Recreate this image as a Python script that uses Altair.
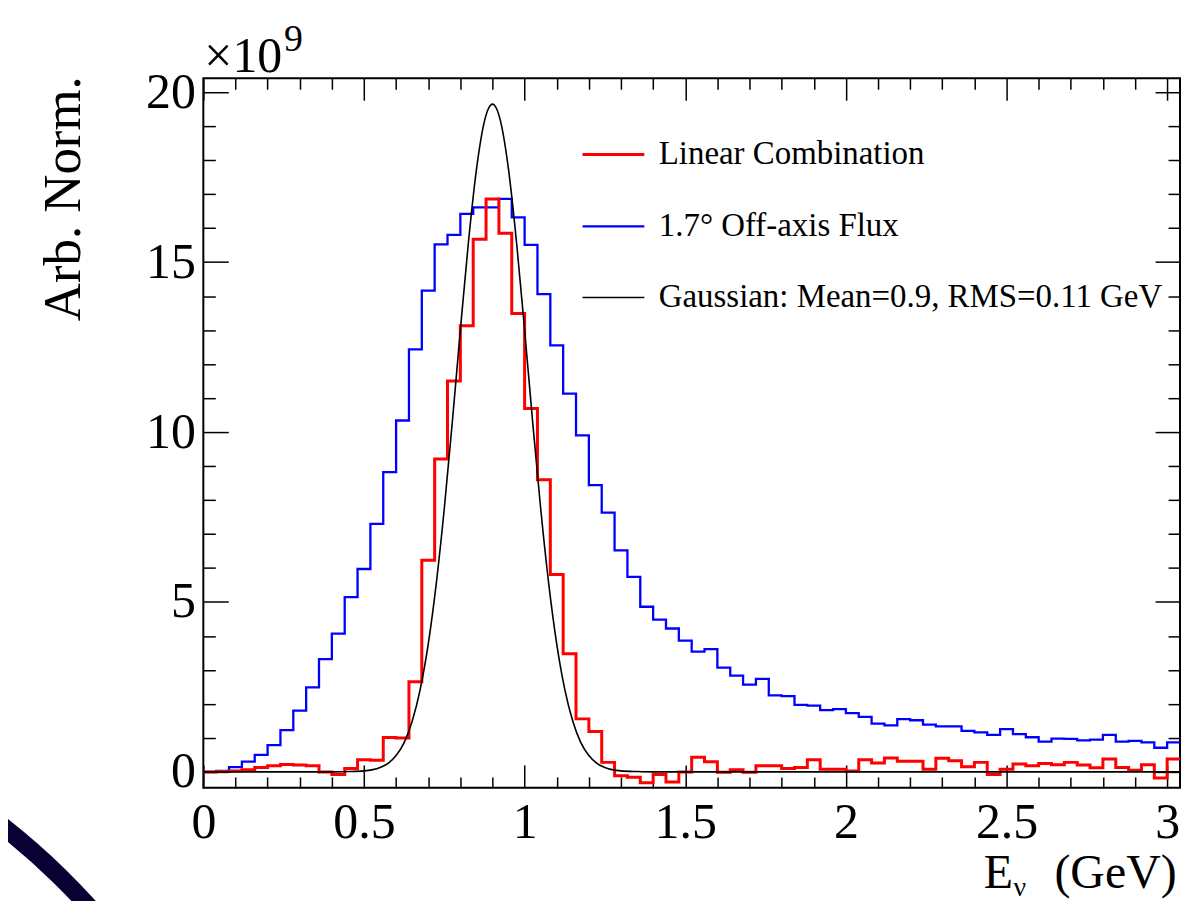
import altair as alt
import pandas as pd

# ---------------- data (values in units of 1e9) ----------------
BIN_WIDTH = 0.04
series_labels = ["Linear Combination", "1.7° Off-axis Flux", "Gaussian: Mean=0.9, RMS=0.11 GeV"]
series_colors = ["#ff0000", "#0000ff", "#000000"]
series_widths = [3.0, 1.6, 1.3]

offaxis_flux = [0.00, 0.03, 0.14, 0.30, 0.50, 0.79, 1.23, 1.80, 2.49, 3.32,
                4.07, 5.14, 5.97, 7.30, 8.82, 10.34, 12.43, 14.16, 15.52, 15.80,
                16.42, 16.61, 16.61, 16.86, 16.32, 15.51, 14.06, 12.55, 11.13, 9.90,
                8.44, 7.63, 6.52, 5.74, 4.86, 4.48, 4.22, 3.86, 3.54, 3.61,
                3.07, 2.83, 2.57, 2.74, 2.25, 2.23, 1.97, 1.95, 1.82, 1.85,
                1.73, 1.62, 1.42, 1.37, 1.55, 1.52, 1.39, 1.34, 1.34, 1.21,
                1.16, 1.09, 1.26, 1.11, 1.02, 0.89, 0.98, 0.97, 0.93, 0.95,
                1.09, 0.89, 0.91, 0.87, 0.71, 0.87]

linear_comb = [0.00, 0.01, 0.03, 0.06, 0.13, 0.18, 0.22, 0.20, 0.18, 0.00,
               -0.08, 0.10, 0.36, 0.34, 1.01, 1.00, 2.65, 6.23, 9.21, 11.50,
               13.13, 15.67, 16.86, 15.85, 13.49, 10.69, 8.60, 5.81, 3.48, 1.56,
               1.19, 0.28, -0.11, -0.16, -0.32, -0.08, -0.30, 0.00, 0.43, 0.30,
               -0.01, 0.06, -0.01, 0.18, 0.18, 0.10, 0.13, 0.36, 0.08, 0.08,
               0.03, 0.36, 0.26, 0.41, 0.31, 0.31, 0.08, 0.40, 0.33, 0.15,
               0.28, -0.08, 0.08, 0.23, 0.18, 0.25, 0.21, 0.28, 0.20, 0.12,
               0.38, 0.13, 0.05, 0.21, -0.18, 0.38]

gauss_E = [0.00, 0.30, 0.40, 0.45, 0.50, 0.55, 0.575, 0.60, 0.625, 0.65, 0.675,
           0.70, 0.725, 0.75, 0.775, 0.80, 0.825, 0.85, 0.875, 0.8875, 0.90,
           0.9125, 0.925, 0.95, 0.975, 1.00, 1.025, 1.05, 1.075, 1.10, 1.125,
           1.15, 1.175, 1.20, 1.225, 1.25, 1.30, 1.35, 1.40, 1.50, 3.04]
gauss_v = [0.00, 0.00, 0.00, 0.01, 0.03, 0.13, 0.25, 0.48, 0.86, 1.49, 2.43,
           3.76, 5.54, 7.75, 10.30, 13.00, 15.57, 17.72, 19.15, 19.52, 19.65,
           19.52, 19.15, 17.72, 15.57, 13.00, 10.30, 7.75, 5.54, 3.76, 2.43,
           1.49, 0.86, 0.48, 0.25, 0.13, 0.03, 0.01, 0.00, 0.00, 0.00]

x_major = [0, 0.5, 1.0, 1.5, 2.0, 2.5, 3.0]
x_minor = [round(0.1 * k, 1) for k in range(31) if k % 5 != 0]
y_major = [0, 5, 10, 15, 20]
y_minor = [k for k in range(1, 21) if k % 5 != 0]

X_DOMAIN = [0, 3.04]
Y_DOMAIN = [-0.47, 20.41]
FONT = "Liberation Serif"


def step_frame(vals, name):
    xs = [i * BIN_WIDTH for i in range(len(vals))] + [len(vals) * BIN_WIDTH]
    ys = list(vals) + [vals[-1]]
    return pd.DataFrame({"E": xs, "v": ys, "series": name})


blue_df = step_frame(offaxis_flux, series_labels[1])
red_df = step_frame(linear_comb, series_labels[0])
gauss_df = pd.DataFrame({"E": gauss_E, "v": gauss_v, "series": series_labels[2]})

xscale = alt.Scale(domain=X_DOMAIN, nice=False, zero=False)
yscale = alt.Scale(domain=Y_DOMAIN, nice=False, zero=False)
color_scale = alt.Scale(domain=series_labels, range=series_colors)
sw_scale = alt.Scale(domain=series_labels, range=series_widths)

legend = alt.Legend(
    title=None, orient="none", legendX=379, legendY=44,
    symbolType="stroke", symbolSize=3844, symbolStrokeWidth=2,
    labelFont=FONT, labelFontSize=33, labelColor="black", labelOffset=13,
    rowPadding=22, labelLimit=700,
)


def axis(orient, values, size, labels=False):
    kw = dict(orient=orient, values=values, tickSize=size, offset=-size,
              domain=False, grid=False, ticks=True, tickColor="black",
              tickWidth=1.5, title=None, labels=labels)
    if labels:
        kw.update(labelFont=FONT, labelFontSize=50, labelColor="black",
                  labelFlush=False, labelOverlap=False, format="~g",
                  labelPadding=10 if orient in ("bottom", "top") else 8)
    return alt.Axis(**kw)


def layer(df, xax, yax, mark):
    return alt.Chart(df).mark_line(interpolate=mark, clip=True).encode(
        x=alt.X("E:Q", scale=xscale, axis=xax),
        y=alt.Y("v:Q", scale=yscale, axis=yax),
        color=alt.Color("series:N", scale=color_scale, legend=legend),
        strokeWidth=alt.StrokeWidth("series:N", scale=sw_scale, legend=legend),
    )


blue = layer(blue_df, axis("bottom", x_major, 23, labels=True),
             axis("left", y_major, 25, labels=True), "step-after")
red = layer(red_df, axis("bottom", x_minor, 11), axis("left", y_minor, 12), "step-after")
gauss = layer(gauss_df, axis("top", x_major, 22), axis("right", y_major, 25), "monotone")
ghost = alt.Chart(gauss_df).mark_line(opacity=0).encode(
    x=alt.X("E:Q", scale=xscale, axis=axis("top", x_minor, 11)),
    y=alt.Y("v:Q", scale=yscale, axis=axis("right", y_minor, 12)),
)

one = alt.Data(values=[{"k": 1}])


def label(text, x, y, size, **kw):
    return alt.Chart(one).mark_text(text=text, font=FONT, fontSize=size,
                                    color="black", **kw).encode(
        x=alt.value(x), y=alt.value(y))


times_ten = label("×10", 1, -6, 50, align="left", baseline="alphabetic")
exponent = label("9", 81, -27, 38, align="left", baseline="alphabetic")
ytitle = label("Arb. Norm.", -124, -2, 53, align="right", baseline="alphabetic", angle=270)
xt_E = label("E", 783, 812, 48, align="left", baseline="alphabetic")
xt_nu = label("ν", 813, 820, 28, align="left", baseline="alphabetic")
xt_rest = label("(GeV)", 854, 812, 48, align="left", baseline="alphabetic")

arc = alt.Chart(one).mark_arc(innerRadius=694, outerRadius=712, theta=0.45, theta2=1.1,
                              color="#0b0033").encode(
    x=alt.value(-636), y=alt.value(1303))

chart = alt.layer(blue, red, gauss, ghost, times_ten, exponent, ytitle,
                  xt_E, xt_nu, xt_rest, arc).resolve_axis(
    x="independent", y="independent"
).properties(
    width=980, height=712,
    autosize=alt.AutoSizeParams(type="none"),
    padding={"left": 196, "top": 69, "right": 5, "bottom": 112},
    background="white",
).configure_view(stroke="black", strokeWidth=2)

chart.save("out.html", embed_options={"renderer": "svg", "actions": False})
